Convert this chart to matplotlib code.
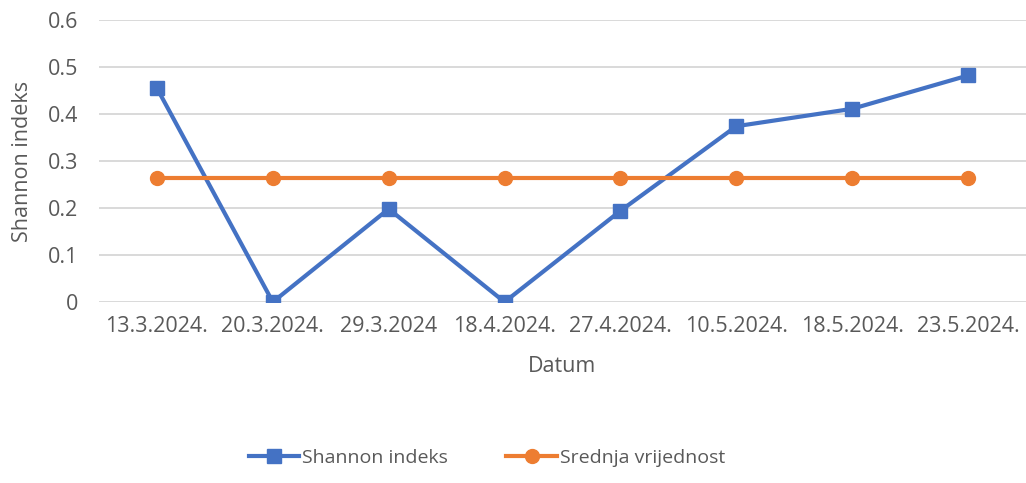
import matplotlib.pyplot as plt
import numpy as np

# Data
datumi = ['13.3.2024.', '20.3.2024.', '29.3.2024', '18.4.2024.',
          '27.4.2024.', '10.5.2024.', '18.5.2024.', '23.5.2024.']
shannon = [0.455, 0.0, 0.198, 0.0, 0.194, 0.374, 0.411, 0.482]
srednja = [0.264] * 8

plt.rcParams['font.family'] = ['Open Sans', 'DejaVu Sans']
text_col = '#595959'

fig = plt.figure(figsize=(10.26, 4.83), dpi=100)
ax = fig.add_axes([99 / 1026, 1 - 302 / 483, 927 / 1026, 282 / 483])

x = np.arange(len(datumi))
ax.plot(x, shannon, color='#4472C4', lw=3, marker='s', ms=10.5,
        label='Shannon indeks', zorder=3)
ax.plot(x, srednja, color='#ED7D31', lw=3, marker='o', ms=10,
        label='Srednja vrijednost', zorder=3)

ax.set_xlim(-0.5, len(datumi) - 0.5)
ax.set_ylim(0, 0.6)
ax.set_yticks(np.arange(0, 0.61, 0.1))
ax.set_yticklabels(['0', '0.1', '0.2', '0.3', '0.4', '0.5', '0.6'])
ax.set_xticks(x)
ax.set_xticklabels(datumi)
ax.grid(axis='y', color='#D9D9D9', lw=1.4)
ax.set_axisbelow(True)
for s in ax.spines.values():
    s.set_visible(False)
ax.tick_params(length=0, colors=text_col, labelsize=15.5)
ax.tick_params(axis='x', pad=10)
ax.tick_params(axis='y', pad=15)

ax.set_xlabel('Datum', fontsize=15.5, color=text_col, labelpad=14)
ax.set_ylabel('Shannon indeks', fontsize=15.5, color=text_col, labelpad=11)

# legend sits slightly left of the figure centre, as in the original
fig.legend(loc='center', bbox_to_anchor=(487 / 1026, 1 - 458 / 483), ncol=2,
           frameon=False, fontsize=14, labelcolor=text_col,
           handlelength=2.6, handletextpad=0.15, columnspacing=3.0)

plt.savefig('out.png', dpi=100)
